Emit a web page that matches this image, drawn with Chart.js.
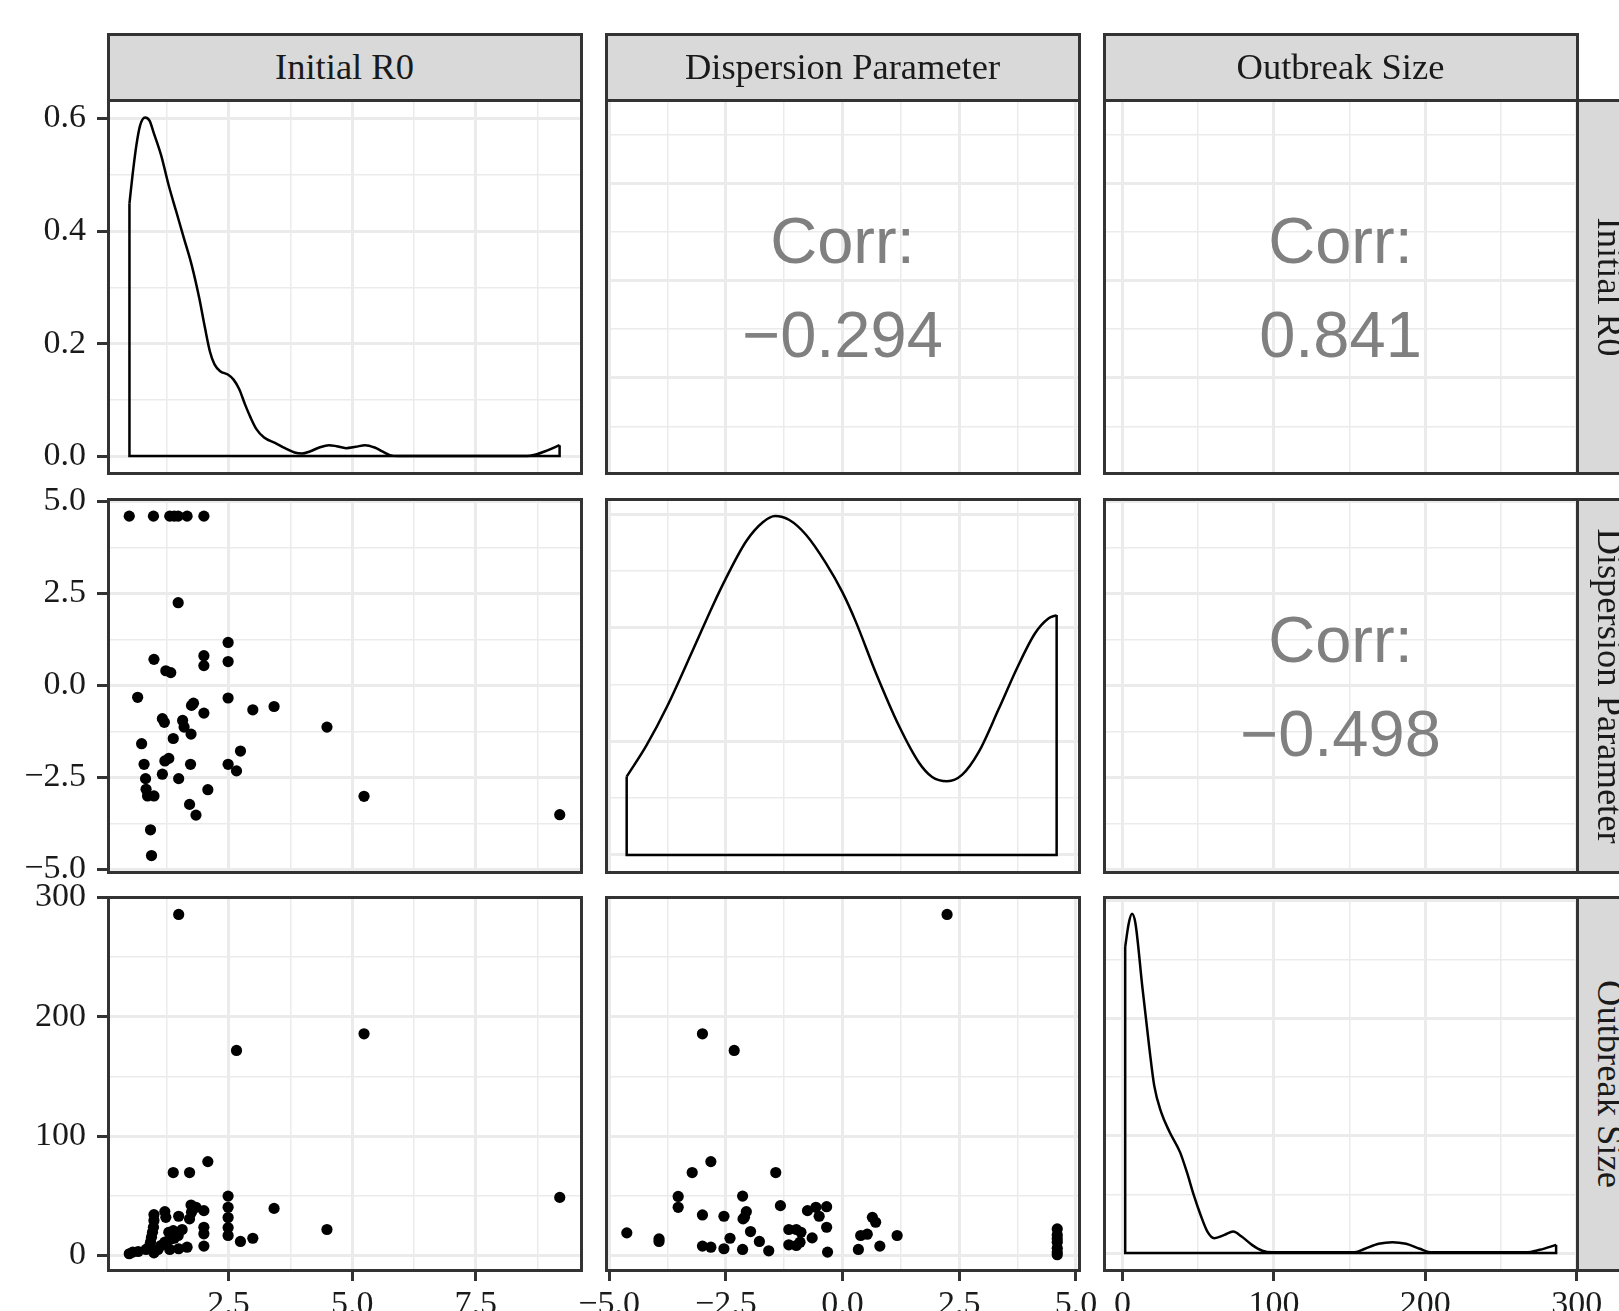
<!DOCTYPE html>
<html>
<head>
<meta charset="utf-8">
<script src="https://cdn.jsdelivr.net/npm/chart.js"></script>
<style>
  body { margin: 0; background: #fff; }
  #page { position: relative; width: 1619px; height: 1311px; overflow: hidden; background: #fff; }
  #page canvas { position: absolute; }
  .frame { position: absolute; border: 3px solid #333; box-sizing: border-box; pointer-events: none; }
  .strip { position: absolute; background: #d9d9d9; border: 3px solid #333; box-sizing: border-box;
           font-family: 'Liberation Serif', serif; font-size: 36.5px; color: #1a1a1a; text-align: center; white-space: nowrap; }
  .strip span { position: absolute; left: 50%; top: 50%; line-height: 1; transform: translate(-50%, -50%); }
  .strip.side span { transform: translate(-50%, -50%) rotate(90deg); }
  .corr { position: absolute; width: 400px; margin-left: -200px; font-family: 'Liberation Sans', Arial, sans-serif;
          font-size: 65px; line-height: 64px; color: #808080; text-align: center; white-space: nowrap; }
</style>
</head>
<body>
<div id="page"></div>
<script>
// variables of the pairs plot
const varNames = ['Initial R0', 'Dispersion Parameter', 'Outbreak Size'];
// correlations shown in the upper panels: (R0, disp), (R0, size), (disp, size)
const corrValues = [-0.294, 0.841, -0.498];

// ticks (major carry labels, minor only grid)
const r0Major = [2.5, 5.0, 7.5];
const r0Minor = [1.25, 3.75, 6.25, 8.75];
const dispMajor = [-5, -2.5, 0, 2.5, 5];
const dispMinor = [-3.75, -1.25, 1.25, 3.75];
const sizeMajor = [0, 100, 200, 300];
const sizeMinor = [50, 150, 250];
const densR0Major = [0, 0.2, 0.4, 0.6];
const densR0Minor = [0.1, 0.3, 0.5];
const densDispMajor = [0, 0.04, 0.08, 0.12];
const densDispMinor = [0.02, 0.06, 0.10];
const densSizeMajor = [0, 0.01, 0.02, 0.03];
const densSizeMinor = [0.005, 0.015, 0.025];

// density curves on the diagonal
const r0DensityX = [0.494, 0.556, 0.633, 0.710, 0.810, 0.903, 0.980, 1.134, 1.289, 1.443, 1.597, 1.752, 1.906, 2.022, 2.122,
  2.215, 2.330, 2.485, 2.600, 2.716, 2.832, 2.948, 3.063, 3.218, 3.449, 3.642, 3.835, 3.989, 4.144, 4.336,
  4.529, 4.684, 4.877, 5.069, 5.262, 5.455, 5.610, 5.764, 5.918, 8.540, 8.696, 8.927, 9.197];
const r0DensityY = [0.449, 0.499, 0.552, 0.588, 0.602, 0.596, 0.576, 0.535, 0.481, 0.434, 0.387, 0.340, 0.281, 0.228, 0.186,
  0.163, 0.151, 0.145, 0.136, 0.119, 0.092, 0.068, 0.048, 0.033, 0.023, 0.014, 0.0065, 0.0047, 0.0083, 0.0153,
  0.0195, 0.0177, 0.0142, 0.0165, 0.0195, 0.0153, 0.0083, 0.0018, 0, 0, 0.0024, 0.0094, 0.0195];
const dispDensityX = [-4.623, -4.196, -3.755, -3.200, -2.774, -2.511, -2.063, -1.707, -1.444, -1.138, -0.782, -0.356, 0,
  0.284, 0.711, 1.209, 1.636, 1.920, 2.240, 2.560, 2.916, 3.343, 3.755, 4.125, 4.410, 4.587];
const dispDensityY = [0.0276, 0.0387, 0.0524, 0.0724, 0.0880, 0.0970, 0.1105, 0.1172, 0.1194, 0.1180, 0.1128, 0.1028, 0.0925,
  0.0822, 0.0643, 0.0455, 0.0326, 0.0275, 0.0260, 0.0282, 0.0362, 0.0513, 0.0664, 0.0781, 0.0833, 0.0845];
const sizeDensityX = [1.8, 4.1, 6.3, 8.6, 13.1, 17.6, 21.0, 25.6, 31.2, 38.0, 42.5, 47.1, 51.6, 56.1, 60.6, 67.4, 73.1, 78.7,
  85.5, 92.3, 99.1, 153.4, 160.2, 169.2, 178.3, 187.3, 196.4, 203.2, 266.5, 275.6, 286.4];
const sizeDensityY = [0.02606, 0.02803, 0.02887, 0.02803, 0.02268, 0.01761, 0.01423, 0.01197, 0.01028, 0.00859, 0.00690,
  0.00493, 0.00324, 0.00183, 0.00127, 0.00155, 0.00183, 0.00141, 0.00070, 0.00020, 0.00006, 0.00006, 0.00037,
  0.00079, 0.00093, 0.00079, 0.00037, 0.00008, 0.00006, 0.00028, 0.00070];

// scatter: Dispersion Parameter vs Initial R0
const dispPanelR0 = [0.49, 0.98, 1.31, 1.40, 1.48, 1.66, 2.0, 1.48, 2.49, 0.99, 2.0, 2.0, 2.49, 1.23, 1.33, 0.66, 2.49,
  1.75, 1.79, 2.0, 2.99, 3.42, 1.16, 1.2, 1.57, 1.6, 4.49, 1.38, 1.74, 0.74, 2.74, 0.79, 1.21, 1.29, 1.73, 2.49, 2.66,
  1.16, 0.82, 1.49, 0.83, 0.86, 0.99, 2.08, 5.24, 1.71, 1.84, 9.2, 0.92, 0.94];
const dispPanelDisp = [4.6, 4.6, 4.6, 4.6, 4.6, 4.6, 4.6, 2.25, 1.17, 0.71, 0.81, 0.54, 0.65, 0.4, 0.35, -0.32, -0.34,
  -0.54, -0.48, -0.75, -0.66, -0.57, -0.9, -1.0, -0.95, -1.13, -1.13, -1.44, -1.32, -1.58, -1.78, -2.14, -2.05, -1.98, -2.14, -2.14, -2.32,
  -2.41, -2.53, -2.53, -2.82, -3.0, -3.0, -2.83, -3.01, -3.23, -3.52, -3.51, -3.92, -4.62];

// scatter: Outbreak Size vs Initial R0
const sizePanelR0 = [1.49, 2.66, 5.24, 9.2, 1.38, 1.71, 2.08, 2.49, 2.49, 2.49, 2.49, 2.49, 3.42, 4.49, 2.74, 2.99, 2.0, 2.0,
  2.0, 2.0, 1.74, 1.84, 1.75, 1.71, 1.49, 1.21, 1.23, 0.99, 0.99, 0.98, 0.96, 0.94, 0.92, 0.89, 0.99, 1.29, 1.38, 1.56,
  1.48, 1.34, 1.21, 1.13, 1.31, 1.49, 1.66, 1.07, 0.83, 0.67, 0.56, 0.49, 1.40];
const sizePanelSize = [285.6, 171.7, 185.6, 48.6, 69.4, 69.4, 78.6, 49.7, 40.3, 31.7, 23.3, 16.7, 39.4, 21.7, 11.7, 14.4,
  37.5, 23.6, 18.1, 7.8, 42.2, 40.3, 36.1, 30.6, 32.8, 36.7, 31.9, 34.2, 29.2, 23.6, 19.4, 15.3, 11.1, 6.9, 2.2, 19.4,
  20.8, 21.7, 16.7, 13.9, 11.1, 8.3, 5.0, 5.6, 6.9, 5.0, 5.0, 3.3, 2.8, 1.4, 14.4];

// scatter: Outbreak Size vs Dispersion Parameter
const sizeByDispDisp = [2.24, -3.0, -2.32, -2.82, -3.22, -1.43, -3.52, -3.52, -2.14, -1.33, -3.0, -2.54, -2.06, -2.10, -2.13,
  -0.75, -0.57, -0.50, -0.34, -0.34, 0.64, 0.71, 1.17, 0.39, 0.53, 0.80, 0.34, -0.32, -0.65, -0.89, -0.99, -1.15, -1.15,
  -0.99, -0.91, -1.58, -1.78, -1.97, -2.41, -2.54, -2.14, -3.0, -2.82, -4.62, -3.93, -3.93, 4.6, 4.6, 4.6, 4.6, 4.6, 4.6, 4.6];
const sizeByDispSize = [285.6, 185.6, 171.7, 78.6, 69.4, 69.4, 49.4, 40.3, 49.7, 41.7, 33.9, 32.8, 36.7, 31.9, 30.6,
  37.5, 40.3, 32.8, 40.8, 23.6, 31.9, 27.8, 16.7, 16.7, 17.8, 7.8, 5.0, 2.8, 14.7, 19.4, 21.7, 21.7, 8.9,
  8.3, 11.1, 3.9, 11.7, 20.0, 14.4, 5.6, 5.0, 7.8, 6.9, 18.9, 13.9, 11.7, 22.2, 17.2, 11.1, 6.1, 2.8, 0.6, 14.0];

// axis limits
const r0Axis = { min: 0.06, max: 9.63, major: r0Major, minor: r0Minor, digits: 1 };
const dispAxis = { min: -5.066, max: 5.066, major: dispMajor, minor: dispMinor, digits: 1 };
const sizeAxis = { min: -12.2, max: 300.2, major: sizeMajor, minor: sizeMinor, digits: 0 };
const densAxes = [
  { min: -0.030, max: 0.633, major: densR0Major, minor: densR0Minor, digits: 1 },
  { min: -0.006, max: 0.1254, major: densDispMajor, minor: densDispMinor, digits: 2 },
  { min: -0.00144, max: 0.0303, major: densSizeMajor, minor: densSizeMinor, digits: 2 }
];
const varAxes = [r0Axis, dispAxis, sizeAxis];
const densX = [r0DensityX, dispDensityX, sizeDensityX];
const densY = [r0DensityY, dispDensityY, sizeDensityY];
const scatterXY = {
  '1,0': [dispPanelR0, dispPanelDisp],
  '2,0': [sizePanelR0, sizePanelSize],
  '2,1': [sizeByDispDisp, sizeByDispSize]
};
const corrAt = { '0,1': corrValues[0], '0,2': corrValues[1], '1,2': corrValues[2] };

// layout of the grid
const colX = [108, 606, 1104], colW = 473;
const rowY = [100, 499, 897], rowH = 373;
const PAD = 45;
const page = document.getElementById('page');

const isMajor = (spec, v) => spec.major.some(m => Math.abs(m - v) < 1e-9);
const fmt = (v, d) => v.toFixed(d).replace('-', '\u2212');

function buildAxis(spec, labelled, size, horizontal) {
  return {
    type: 'linear',
    min: spec.min,
    max: spec.max,
    afterBuildTicks: s => {
      s.ticks = spec.major.concat(spec.minor).sort((a, b) => a - b).map(v => ({ value: v }));
    },
    afterFit: s => { if (horizontal) s.height = size; else s.width = size; },
    border: { display: false },
    grid: {
      color: '#ebebeb',
      lineWidth: ctx => (ctx.tick && isMajor(spec, ctx.tick.value)) ? 3 : 1.5,
      drawTicks: labelled,
      tickLength: 11,
      tickWidth: 3,
      tickColor: ctx => (ctx.tick && isMajor(spec, ctx.tick.value)) ? '#333' : 'rgba(0,0,0,0)'
    },
    ticks: {
      display: labelled,
      autoSkip: false,
      maxRotation: 0,
      padding: horizontal ? 4 : 11,
      color: '#1a1a1a',
      font: { family: 'Liberation Serif', size: 34 },
      callback: v => isMajor(spec, v) ? fmt(v, spec.digits) : ''
    }
  };
}

function densityDatasets(xs, ys) {
  const n = xs.length - 1;
  return [{
    data: xs.map((x, i) => ({ x, y: ys[i] })),
    showLine: true, cubicInterpolationMode: 'monotone',
    borderColor: '#000', borderWidth: 2.5, pointRadius: 0
  }, {
    data: [{ x: xs[0], y: ys[0] }, { x: xs[0], y: 0 }, { x: xs[n], y: 0 }, { x: xs[n], y: ys[n] }],
    showLine: true, tension: 0,
    borderColor: '#000', borderWidth: 2.5, pointRadius: 0
  }];
}

function makePanel(r, c) {
  const left = c === 0 ? 0 : colX[c] - PAD;
  const top = rowY[r] - PAD;
  const width = colX[c] + colW + PAD - left;
  const height = (r === 2 ? 1311 : rowY[r] + rowH + PAD) - top;
  const canvas = document.createElement('canvas');
  canvas.width = width;
  canvas.height = height;
  canvas.style.left = left + 'px';
  canvas.style.top = top + 'px';
  page.appendChild(canvas);

  let datasets = [];
  if (r === c) {
    datasets = densityDatasets(densX[c], densY[c]);
  } else if (r > c) {
    const [xs, ys] = scatterXY[r + ',' + c];
    datasets = [{
      data: xs.map((x, i) => ({ x, y: ys[i] })),
      pointRadius: 5.6, pointBackgroundColor: '#000', pointBorderWidth: 0
    }];
  }

  new Chart(canvas, {
    type: 'scatter',
    data: { datasets },
    options: {
      responsive: false,
      animation: false,
      events: [],
      layout: { padding: { left: c === 0 ? 0 : PAD, top: PAD, right: PAD, bottom: r === 2 ? 0 : PAD } },
      plugins: { legend: { display: false }, tooltip: { enabled: false } },
      scales: {
        x: buildAxis(varAxes[c], r === 2, r === 2 ? 1311 - rowY[2] - rowH : 0, true),
        y: buildAxis(r === c ? densAxes[c] : varAxes[r], c === 0, c === 0 ? colX[0] : 0, false)
      }
    }
  });
}

function addBox(cls, x, y, w, h, text) {
  const el = document.createElement('div');
  el.className = cls;
  el.style.left = (x - 1.5) + 'px';
  el.style.top = (y - 1.5) + 'px';
  el.style.width = (w + 3) + 'px';
  el.style.height = (h + 3) + 'px';
  if (text) {
    const s = document.createElement('span');
    s.textContent = text;
    el.appendChild(s);
  }
  page.appendChild(el);
}

for (let r = 0; r < 3; r++) {
  for (let c = 0; c < 3; c++) makePanel(r, c);
}
for (let r = 0; r < 3; r++) {
  for (let c = 0; c < 3; c++) {
    addBox('frame', colX[c], rowY[r], colW, rowH);
    const v = corrAt[r + ',' + c];
    if (v !== undefined) {
      const cx = colX[c] + colW / 2, cy = rowY[r] + rowH / 2;
      ['Corr:', fmt(v, 3)].forEach((t, k) => {
        const d = document.createElement('div');
        d.className = 'corr';
        d.textContent = t;
        d.style.left = cx + 'px';
        d.style.top = (cy + (k === 0 ? -78 : 16)) + 'px';
        page.appendChild(d);
      });
    }
  }
}
varNames.forEach((name, i) => {
  addBox('strip', colX[i], 34, colW, rowY[0] - 34, name);
  addBox('strip side', colX[2] + colW, rowY[i], 66, rowH, name);
});
</script>
</body>
</html>
